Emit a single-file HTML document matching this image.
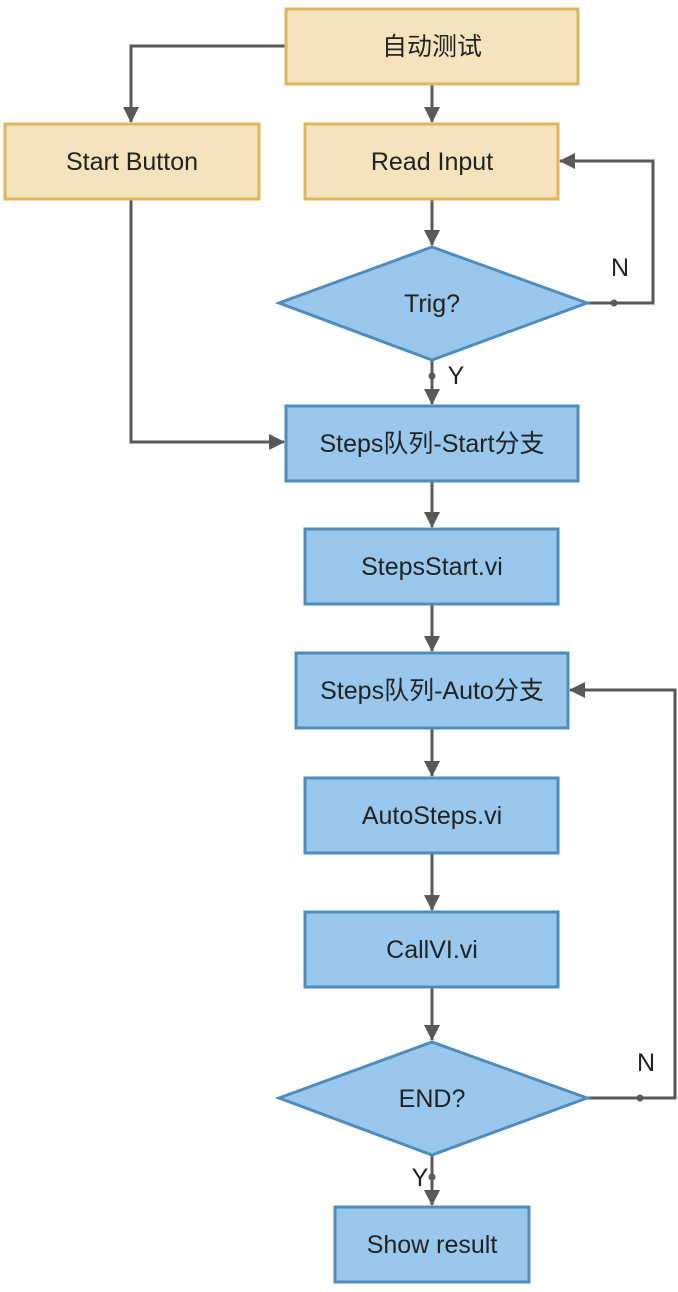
<!DOCTYPE html>
<html><head><meta charset="utf-8"><style>body{margin:0;background:#fff}svg{display:block}</style></head><body>
<svg width="678" height="1292" xmlns="http://www.w3.org/2000/svg" font-family="'Liberation Sans','Noto Sans CJK SC',sans-serif" font-size="25" fill="#222">
<defs>
<marker id="b" markerWidth="16" markerHeight="18" refX="15" refY="9" orient="auto" markerUnits="userSpaceOnUse"><path d="M0,1 L16,9 L0,17 z" fill="#595959"/></marker></defs>
<g stroke="#595959" stroke-width="3" fill="none" marker-end="url(#b)">
<path d="M432,84 V122"/>
<path d="M286,46 H131 V122"/>
<path d="M432,199 V245"/>
<path d="M587,303 H653 V161 H560"/>
<path d="M432,360 V404"/>
<path d="M131,199 V442 H284"/>
<path d="M432,481 V527"/>
<path d="M432,604 V651"/>
<path d="M432,728 V776"/>
<path d="M432,853 V910"/>
<path d="M432,987 V1040"/>
<path d="M587,1098 H675 V690 H570"/>
<path d="M432,1155 V1205"/>
</g>
<g fill="#595959"><circle cx="614" cy="303" r="3.5"/><circle cx="432" cy="376" r="3.5"/><circle cx="640" cy="1098" r="3.5"/><circle cx="432" cy="1177" r="3.5"/></g>
<g fill="#f5e3bd" stroke="#e0b45c" stroke-width="3">
<rect x="286" y="9" width="292" height="75"/><rect x="5" y="124" width="254" height="75"/><rect x="305" y="124" width="253" height="75"/></g>
<g fill="#99c8ec" stroke="#4f8cbc" stroke-width="3">
<polygon points="279,303 432,247 587,303 432,360"/>
<rect x="286" y="406" width="292" height="75"/><rect x="305" y="529" width="253" height="75"/>
<rect x="296" y="653" width="272" height="75"/><rect x="305" y="778" width="253" height="75"/>
<rect x="305" y="912" width="253" height="75"/>
<polygon points="279,1098 432,1042 587,1098 432,1155"/>
<rect x="335" y="1207" width="194" height="75"/></g>
<g text-anchor="middle" dominant-baseline="central">
<text x="432" y="47">自动测试</text><text x="132" y="162">Start Button</text><text x="432" y="162">Read Input</text>
<text x="432" y="304">Trig?</text><text x="432" y="444">Steps队列-Start分支</text><text x="432" y="567">StepsStart.vi</text>
<text x="432" y="691">Steps队列-Auto分支</text><text x="432" y="816">AutoSteps.vi</text><text x="432" y="950">CallVI.vi</text>
<text x="432" y="1099">END?</text><text x="432" y="1245">Show result</text>
<text x="620" y="268">N</text><text x="456" y="376">Y</text><text x="646" y="1063">N</text><text x="420" y="1178">Y</text>
</g>
</svg></body></html>
